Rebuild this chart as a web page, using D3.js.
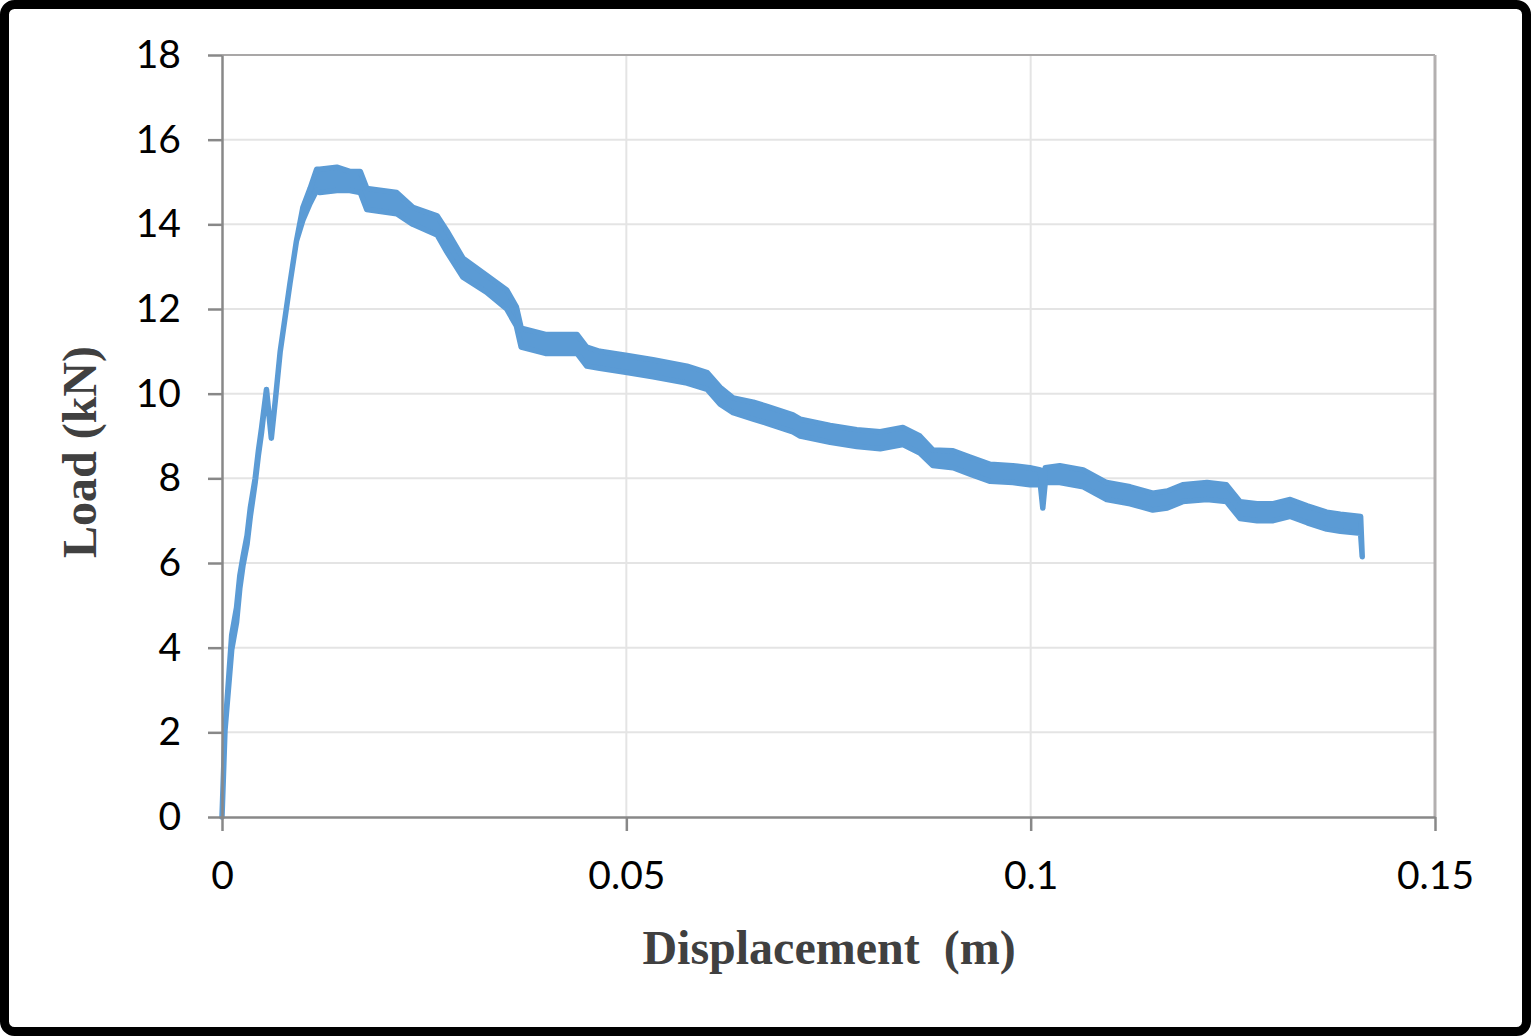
<!DOCTYPE html>
<html>
<head>
<meta charset="utf-8">
<script src="https://cdn.jsdelivr.net/npm/d3@7"></script>
<style>
  html, body { margin: 0; padding: 0; background: #fff; }
  svg { display: block; }
</style>
</head>
<body>
<svg id="chart" width="1531" height="1036"></svg>
<script>
// Displacement (m)
const displacement = [0, 0.00037, 0.0012, 0.0018, 0.0022, 0.0026, 0.0031, 0.0035, 0.0041, 0.0045, 0.0049,
  0.0055, 0.0061, 0.0066, 0.0072, 0.0084, 0.0092, 0.0100, 0.0109, 0.0117, 0.0121, 0.0142, 0.0158, 0.0171,
  0.0179, 0.0216, 0.0236, 0.0266, 0.0278, 0.0298, 0.0327, 0.0352, 0.0364, 0.0370, 0.0400, 0.0439, 0.0451,
  0.0467, 0.0501, 0.0533, 0.0575, 0.0600, 0.0616, 0.0632, 0.0657, 0.0674, 0.0706, 0.0715, 0.0752, 0.0785,
  0.0814, 0.0842, 0.0863, 0.0879, 0.0904, 0.0925, 0.0950, 0.0978, 0.0999, 0.1012, 0.1015, 0.1018, 0.1036,
  0.1065, 0.1094, 0.1123, 0.1151, 0.1169, 0.1188, 0.1218, 0.1242, 0.1259, 0.1280, 0.1300, 0.1321, 0.1342,
  0.1366, 0.1383, 0.1408, 0.1410];
// Load (kN), upper envelope of the noisy measurement
const loadUpper = [0, 2.05, 4.3, 4.95, 5.7, 6.15, 6.65, 7.3, 8.0, 8.65, 9.2,
  10.1, 8.95, 9.85, 11.0, 12.6, 13.6,
  14.4, 14.85, 15.3, 15.3, 15.35, 15.25, 15.25, 14.85, 14.75, 14.4, 14.2, 13.85, 13.2, 12.8, 12.45, 12.05,
  11.55, 11.4, 11.4, 11.1, 11.0, 10.9, 10.8, 10.65, 10.5, 10.15, 9.9, 9.8, 9.7, 9.5, 9.4, 9.25,
  9.15, 9.1, 9.2, 9.0, 8.67, 8.65, 8.5, 8.33, 8.3, 8.25, 8.2, 7.3, 8.25, 8.3, 8.2, 7.9, 7.8, 7.65,
  7.7, 7.85, 7.9, 7.85, 7.45, 7.4, 7.4, 7.5, 7.35, 7.2, 7.15, 7.1, 6.15];
// Load (kN), lower envelope of the noisy measurement
const loadLower = [0, 2.05, 3.95, 4.6, 5.4, 5.95, 6.45, 7.1, 7.9, 8.55, 9.1,
  10.1, 8.95, 9.85, 11.0, 12.6, 13.6,
  14.1, 14.5, 14.8, 14.75, 14.8, 14.8, 14.75, 14.35, 14.25, 14.0, 13.75, 13.35, 12.75, 12.4, 12.0, 11.6,
  11.1, 10.95, 10.95, 10.65, 10.6, 10.5, 10.4, 10.25, 10.1, 9.75, 9.55, 9.4, 9.3, 9.1, 9.0, 8.85,
  8.75, 8.7, 8.8, 8.6, 8.3, 8.25, 8.1, 7.93, 7.9, 7.85, 7.85, 7.3, 7.9, 7.9, 7.8, 7.5, 7.4, 7.25,
  7.3, 7.45, 7.5, 7.45, 7.05, 7.0, 7.0, 7.1, 6.95, 6.8, 6.75, 6.7, 6.15];

const xTicks = [0, 0.05, 0.1, 0.15];
const xTickLabels = ["0", "0.05", "0.1", "0.15"];
const yTicks = [0, 2, 4, 6, 8, 10, 12, 14, 16, 18];
const xTitle = "Displacement  (m)";
const yTitle = "Load (kN)";

const svg = d3.select("#chart");
const W = 1531, H = 1036;
const plot = { left: 222, right: 1435, top: 55, bottom: 817 };

// outer frame
svg.append("rect")
  .attr("x", 4.5).attr("y", 4.5)
  .attr("width", W - 9).attr("height", H - 9)
  .attr("rx", 10).attr("ry", 10)
  .attr("fill", "#fff").attr("stroke", "#000").attr("stroke-width", 9);

const x = d3.scaleLinear().domain([0, 0.15]).range([plot.left, plot.right]);
const y = d3.scaleLinear().domain([0, 18]).range([plot.bottom, plot.top]);

// gridlines
const grid = svg.append("g");
grid.selectAll("line.h").data(yTicks.filter(v => v > 0 && v < 18)).join("line")
  .attr("x1", plot.left).attr("x2", plot.right)
  .attr("y1", d => y(d)).attr("y2", d => y(d))
  .attr("stroke", "#e4e4e4").attr("stroke-width", 2);
grid.selectAll("line.v").data(xTicks.filter(v => v > 0 && v < 0.15)).join("line")
  .attr("x1", d => x(d)).attr("x2", d => x(d))
  .attr("y1", plot.top).attr("y2", plot.bottom)
  .attr("stroke", "#e4e4e4").attr("stroke-width", 2);
// top and right borders
svg.append("line").attr("x1", plot.left).attr("x2", plot.right)
  .attr("y1", y(18)).attr("y2", y(18)).attr("stroke", "#a9a7a7").attr("stroke-width", 2);
svg.append("line").attr("x1", x(0.15)).attr("x2", x(0.15))
  .attr("y1", plot.top).attr("y2", plot.bottom).attr("stroke", "#b3b0b0").attr("stroke-width", 3);

// data band
const pts = displacement.map((d, i) => ({ x: d, hi: loadUpper[i], lo: loadLower[i] }));
const area = d3.area().x(d => x(d.x)).y0(d => y(d.lo)).y1(d => y(d.hi));
svg.append("path").datum(pts)
  .attr("d", area)
  .attr("fill", "#5b9bd5").attr("stroke", "#5b9bd5")
  .attr("stroke-width", 5.5).attr("stroke-linejoin", "round").attr("stroke-linecap", "round");

// axes
const fontTick = "Lato, 'Open Sans', sans-serif";
const yAxis = svg.append("g").attr("transform", `translate(${plot.left},0)`)
  .call(d3.axisLeft(y).tickValues(yTicks).tickSize(14).tickPadding(27).tickSizeOuter(0));
const xAxis = svg.append("g").attr("transform", `translate(0,${plot.bottom})`)
  .call(d3.axisBottom(x).tickValues(xTicks).tickFormat((d, i) => xTickLabels[i]).tickSize(14).tickPadding(30).tickSizeOuter(0));
[yAxis, xAxis].forEach(a => {
  a.select(".domain").attr("stroke", "#888").attr("stroke-width", 2.5);
  a.selectAll(".tick line").attr("stroke", "#888").attr("stroke-width", 2.5);
  a.selectAll(".tick text").attr("fill", "#000")
    .style("font-family", fontTick).style("font-size", "39px");
});

// titles
svg.append("text")
  .attr("x", 829).attr("y", 964)
  .attr("text-anchor", "middle")
  .style("font-family", "'Liberation Serif', 'Times New Roman', serif")
  .style("font-weight", "bold").style("font-size", "48px")
  .style("white-space", "pre")
  .attr("fill", "#404040")
  .text(xTitle);
svg.append("text")
  .attr("transform", "translate(96,452) rotate(-90)")
  .attr("text-anchor", "middle")
  .style("font-family", "'Liberation Serif', 'Times New Roman', serif")
  .style("font-weight", "bold").style("font-size", "48px")
  .attr("fill", "#404040")
  .text(yTitle);
</script>
</body>
</html>
